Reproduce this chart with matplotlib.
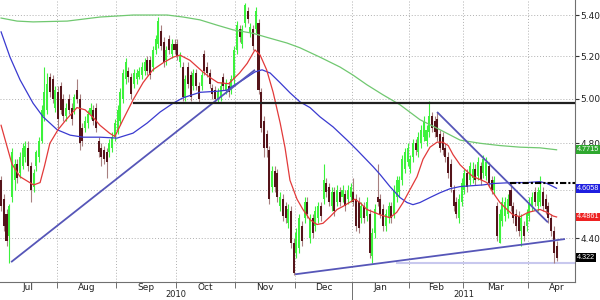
import numpy as np
import matplotlib
matplotlib.use("Agg")
import matplotlib.pyplot as plt
import matplotlib.transforms as mtransforms
from matplotlib.ticker import FixedLocator, NullLocator

# daily candles, Jul 2010 - Apr 2011 (one entry per trading day)
opens = [4.64, 4.56, 4.50, 4.41, 4.57, 4.64, 4.71, 4.67, 4.70, 4.74, 4.78, 4.70, 4.61, 4.70, 4.74, 4.81, 4.92, 4.95, 5.10, 5.09,
         4.96, 5.03, 5.06, 5.00, 4.92, 5.00, 4.96, 4.95, 5.04, 5.00, 4.87, 4.87, 4.89, 4.93, 4.95, 4.96, 4.81, 4.78, 4.77, 4.76,
         4.76, 4.78, 4.83, 4.86, 4.90, 5.00, 5.09, 5.13, 5.10, 5.07, 5.09, 5.10, 5.11, 5.13, 5.18, 5.18, 5.15, 5.23, 5.26, 5.32,
         5.27, 5.18, 5.28, 5.21, 5.26, 5.26, 5.17, 5.15, 5.01, 5.15, 5.11, 5.06, 5.12, 5.06, 5.06, 5.21, 5.15, 5.12, 5.05, 5.04,
         5.00, 5.01, 5.10, 5.04, 5.06, 5.04, 5.09, 5.23, 5.33, 5.26, 5.36, 5.42, 5.31, 5.33, 5.33, 5.36, 5.03, 4.90, 4.84, 4.77,
         4.61, 4.68, 4.67, 4.53, 4.56, 4.53, 4.46, 4.51, 4.38, 4.34, 4.36, 4.45, 4.48, 4.55, 4.40, 4.48, 4.45, 4.48, 4.53, 4.56,
         4.63, 4.61, 4.53, 4.59, 4.55, 4.59, 4.57, 4.58, 4.56, 4.57, 4.59, 4.56, 4.55, 4.48, 4.53, 4.49, 4.50, 4.33, 4.42, 4.57,
         4.56, 4.52, 4.45, 4.48, 4.53, 4.50, 4.57, 4.59, 4.64, 4.69, 4.72, 4.69, 4.74, 4.80, 4.76, 4.80, 4.83, 4.81, 4.85, 4.92,
         4.90, 4.91, 4.84, 4.83, 4.78, 4.74, 4.71, 4.60, 4.55, 4.48, 4.55, 4.60, 4.67, 4.64, 4.65, 4.69, 4.66, 4.70, 4.67, 4.66,
         4.70, 4.64, 4.60, 4.53, 4.38, 4.47, 4.49, 4.50, 4.60, 4.53, 4.50, 4.49, 4.43, 4.45, 4.45, 4.49, 4.53, 4.59, 4.53, 4.55,
         4.59, 4.56, 4.53, 4.48, 4.43, 4.37]
highs = [4.66, 4.58, 4.52, 4.54, 4.78, 4.73, 4.73, 4.76, 4.80, 4.81, 4.81, 4.72, 4.69, 4.77, 4.83, 4.97, 5.15, 5.12, 5.12, 5.11,
         5.06, 5.06, 5.08, 5.02, 4.98, 5.02, 4.98, 5.02, 5.09, 5.02, 4.89, 4.92, 4.95, 4.98, 4.97, 4.98, 4.83, 4.80, 4.79, 4.78,
         4.82, 4.85, 4.91, 4.97, 5.05, 5.14, 5.19, 5.15, 5.12, 5.14, 5.14, 5.15, 5.17, 5.19, 5.20, 5.20, 5.25, 5.30, 5.39, 5.35,
         5.29, 5.25, 5.30, 5.28, 5.28, 5.28, 5.22, 5.17, 5.11, 5.17, 5.13, 5.14, 5.14, 5.08, 5.13, 5.23, 5.17, 5.14, 5.07, 5.06,
         5.05, 5.08, 5.12, 5.09, 5.08, 5.11, 5.25, 5.37, 5.35, 5.35, 5.46, 5.44, 5.36, 5.35, 5.44, 5.38, 5.05, 4.92, 4.86, 4.79,
         4.70, 4.70, 4.69, 4.59, 4.58, 4.55, 4.54, 4.53, 4.40, 4.44, 4.50, 4.47, 4.57, 4.57, 4.50, 4.50, 4.53, 4.55, 4.55, 4.71,
         4.65, 4.63, 4.61, 4.61, 4.62, 4.61, 4.62, 4.60, 4.62, 4.63, 4.65, 4.58, 4.57, 4.55, 4.55, 4.57, 4.52, 4.44, 4.54, 4.71,
         4.58, 4.54, 4.52, 4.55, 4.55, 4.62, 4.66, 4.66, 4.75, 4.78, 4.80, 4.75, 4.82, 4.82, 4.85, 4.88, 4.92, 4.88, 4.99, 4.94,
         4.92, 4.94, 4.86, 4.85, 4.80, 4.76, 4.73, 4.62, 4.57, 4.58, 4.65, 4.69, 4.69, 4.72, 4.72, 4.71, 4.74, 4.72, 4.75, 4.74,
         4.72, 4.66, 4.66, 4.55, 4.52, 4.57, 4.57, 4.58, 4.63, 4.55, 4.52, 4.51, 4.50, 4.47, 4.52, 4.57, 4.59, 4.61, 4.61, 4.66,
         4.61, 4.58, 4.55, 4.50, 4.45, 4.39]
lows = [4.51, 4.43, 4.37, 4.30, 4.55, 4.60, 4.63, 4.65, 4.69, 4.72, 4.68, 4.55, 4.59, 4.68, 4.72, 4.80, 4.90, 4.93, 5.01, 4.98,
        4.94, 4.87, 4.93, 4.90, 4.90, 4.93, 4.88, 4.93, 4.98, 4.77, 4.79, 4.85, 4.87, 4.91, 4.88, 4.85, 4.74, 4.70, 4.71, 4.65,
        4.74, 4.76, 4.81, 4.84, 4.88, 4.98, 5.07, 5.08, 5.00, 5.05, 5.07, 5.09, 5.09, 5.11, 5.11, 5.09, 5.13, 5.21, 5.24, 5.23,
        5.15, 5.16, 5.21, 5.19, 5.21, 5.18, 5.15, 4.99, 4.99, 5.05, 4.99, 5.04, 5.04, 4.98, 5.04, 5.11, 5.10, 5.05, 5.00, 4.98,
        4.98, 4.99, 5.04, 5.02, 5.01, 5.02, 5.07, 5.21, 5.27, 5.24, 5.34, 5.36, 5.29, 5.23, 5.31, 5.02, 4.85, 4.74, 4.74, 4.54,
        4.59, 4.59, 4.55, 4.51, 4.47, 4.46, 4.44, 4.36, 4.255, 4.32, 4.34, 4.37, 4.46, 4.48, 4.38, 4.40, 4.43, 4.46, 4.47, 4.54,
        4.57, 4.53, 4.51, 4.49, 4.53, 4.53, 4.55, 4.51, 4.54, 4.55, 4.53, 4.43, 4.42, 4.46, 4.46, 4.47, 4.32, 4.30, 4.40, 4.53,
        4.48, 4.43, 4.43, 4.46, 4.46, 4.48, 4.55, 4.57, 4.62, 4.67, 4.70, 4.67, 4.72, 4.75, 4.74, 4.78, 4.81, 4.79, 4.83, 4.85,
        4.83, 4.81, 4.76, 4.75, 4.72, 4.65, 4.59, 4.51, 4.48, 4.46, 4.53, 4.58, 4.59, 4.62, 4.63, 4.62, 4.64, 4.62, 4.65, 4.64,
        4.61, 4.58, 4.58, 4.39, 4.38, 4.45, 4.47, 4.48, 4.51, 4.46, 4.43, 4.41, 4.37, 4.39, 4.43, 4.47, 4.51, 4.53, 4.51, 4.53,
        4.51, 4.50, 4.46, 4.41, 4.30, 4.31]
closes = [4.53, 4.45, 4.39, 4.53, 4.76, 4.71, 4.65, 4.74, 4.78, 4.79, 4.70, 4.60, 4.67, 4.76, 4.81, 4.95, 5.03, 5.07, 5.03, 5.00,
          5.04, 4.91, 4.95, 4.92, 4.96, 4.95, 4.91, 5.01, 5.00, 4.80, 4.81, 4.90, 4.93, 4.96, 4.90, 4.87, 4.76, 4.74, 4.73, 4.72,
          4.80, 4.83, 4.89, 4.95, 5.03, 5.12, 5.17, 5.10, 5.02, 5.12, 5.12, 5.13, 5.15, 5.17, 5.13, 5.11, 5.23, 5.28, 5.37, 5.25,
          5.17, 5.23, 5.23, 5.26, 5.23, 5.20, 5.20, 5.01, 5.09, 5.07, 5.01, 5.12, 5.06, 5.00, 5.11, 5.13, 5.12, 5.07, 5.02, 5.00,
          5.03, 5.06, 5.06, 5.07, 5.03, 5.09, 5.23, 5.35, 5.29, 5.33, 5.45, 5.38, 5.34, 5.25, 5.42, 5.04, 4.87, 4.78, 4.78, 4.56,
          4.68, 4.61, 4.57, 4.57, 4.49, 4.48, 4.52, 4.38, 4.26, 4.42, 4.48, 4.39, 4.55, 4.50, 4.48, 4.42, 4.51, 4.53, 4.49, 4.64,
          4.59, 4.55, 4.59, 4.51, 4.60, 4.55, 4.60, 4.53, 4.60, 4.61, 4.55, 4.45, 4.44, 4.53, 4.48, 4.55, 4.34, 4.42, 4.52, 4.55,
          4.50, 4.45, 4.50, 4.53, 4.48, 4.60, 4.64, 4.64, 4.73, 4.76, 4.78, 4.73, 4.80, 4.77, 4.83, 4.86, 4.90, 4.86, 4.92, 4.87,
          4.85, 4.83, 4.78, 4.77, 4.74, 4.67, 4.61, 4.53, 4.50, 4.56, 4.63, 4.67, 4.61, 4.70, 4.69, 4.64, 4.72, 4.64, 4.73, 4.72,
          4.63, 4.60, 4.64, 4.41, 4.50, 4.55, 4.55, 4.56, 4.53, 4.48, 4.45, 4.43, 4.48, 4.41, 4.50, 4.55, 4.57, 4.55, 4.59, 4.60,
          4.53, 4.52, 4.48, 4.43, 4.34, 4.322]

# moving averages: (trading-day index, value)
ma_short_x = [0, 4, 7, 12, 14.4, 16, 18, 21, 24, 28, 31, 34, 36.5, 40, 42, 45, 48.7, 52.4, 56, 60, 63.5, 66, 69.7, 72.3,
              74.5, 77, 80, 84, 85.6, 88, 90.8, 93.7, 95.6, 98, 100.4, 103, 104.8, 106.6, 109.2, 111.4, 114, 116.6, 118.8,
              121.4, 124, 126.2, 130.6, 132.5, 135, 139.9, 143.5, 146, 148.3, 150.9, 153.5, 155.7, 158.3, 160.9, 163, 165,
              166.8, 169.4, 172, 174.2, 176.8, 179.3, 181.5, 184.1, 186.7, 188.9, 191.5, 194.5, 198.9, 201.5, 203.7, 205]
ma_short = [4.88, 4.71, 4.655, 4.62, 4.63, 4.70, 4.80, 4.86, 4.905, 4.96, 4.95, 4.915, 4.88, 4.845, 4.83, 4.905, 4.995,
            5.075, 5.135, 5.17, 5.195, 5.205, 5.18, 5.15, 5.125, 5.10, 5.075, 5.07, 5.09, 5.12, 5.165, 5.23, 5.205, 5.135,
            5.03, 4.89, 4.78, 4.64, 4.56, 4.517, 4.475, 4.455, 4.46, 4.487, 4.517, 4.53, 4.56, 4.545, 4.517, 4.495, 4.483,
            4.505, 4.545, 4.60, 4.655, 4.73, 4.783, 4.805, 4.805, 4.79, 4.75, 4.706, 4.677, 4.655, 4.643, 4.63, 4.588,
            4.546, 4.517, 4.495, 4.487, 4.505, 4.517, 4.505, 4.49, 4.4861]
ma_mid_x = [0, 3.3, 7, 11.8, 15.5, 20.7, 25.5, 30.3, 36.5, 42.8, 48.7, 53.9, 58.7, 63.5, 67.2, 73.4, 79.7, 83.4, 85.6,
            89.3, 91.9, 93.7, 96.3, 99.3, 103, 106.6, 110.3, 114, 117.7, 122.5, 127.7, 131.4, 137.3, 139.9, 143.5, 147.2,
            149.8, 152, 154.6, 158.3, 162, 165.7, 169.4, 174.2, 177.9, 181.5, 188.9, 194.1, 198.9, 201.5, 205]
ma_mid = [5.317, 5.195, 5.088, 4.98, 4.918, 4.86, 4.836, 4.827, 4.827, 4.823, 4.845, 4.89, 4.94, 4.98, 5.005, 5.03,
          5.035, 5.04, 5.06, 5.088, 5.11, 5.125, 5.135, 5.12, 5.074, 5.028, 4.986, 4.96, 4.918, 4.873, 4.814, 4.77,
          4.698, 4.664, 4.613, 4.567, 4.546, 4.537, 4.546, 4.567, 4.587, 4.604, 4.613, 4.617, 4.62, 4.626, 4.63, 4.63,
          4.634, 4.626, 4.6058]
ma_long_x = [0, 5.9, 11.8, 24.4, 36.5, 48.7, 61.3, 67.2, 73.4, 79.7, 85.6, 93, 98.2, 105.5, 110.3, 117.7, 125.1, 129.9,
             135, 141, 147.2, 154.6, 162, 169.4, 176.8, 184.1, 191.5, 198.9, 205]
ma_long = [5.385, 5.37, 5.366, 5.37, 5.39, 5.40, 5.40, 5.39, 5.376, 5.35, 5.327, 5.31, 5.29, 5.263, 5.24, 5.195, 5.148,
           5.11, 5.065, 5.018, 4.973, 4.905, 4.86, 4.814, 4.80, 4.79, 4.783, 4.78, 4.7715]

# hand-drawn trendlines: (x0, y0, x1, y1)
trendlines = [(3.7, 4.304, 93.7, 5.135), (108.5, 4.256, 208.1, 4.396), (160.9, 4.94, 201.8, 4.464)]
resistance = (49, 4.98)
pivot = (187.8, 4.63)
support = (146, 4.30)

months = ["Jul", "Aug", "Sep", "Oct", "Nov", "Dec", "Jan", "Feb", "Mar", "Apr"]
month_starts = [21, 43, 65, 87, 109, 130, 151, 171, 195]
years = ["2010", "2011"]
yticks = [5.40, 5.20, 5.00, 4.80, 4.60, 4.40]
ytick_labels = ["5.40", "5.20", "5.00", "4.80", "", "4.40"]   # 4.60 sits under the blue tag

last_labels = [(4.7715, "4.7715", "#2fa82f"), (4.6058, "4.6058", "#1f1fe0"),
               (4.4861, "4.4861", "#ee2222"), (4.322, "4.322", "#000000")]

UP = "#3cf23c"
DOWN_BODY = "#55141a"
DOWN_WICK = "#a88080"

fig = plt.figure(figsize=(6, 3), dpi=100)
ax = fig.add_axes([0, 0.06, 575 / 600, 0.94])
ax.set_yscale("log")
xmax = 211.8
ax.set_xlim(-0.4, xmax)
ax.set_ylim(4.226, 5.475)

idx = np.arange(len(closes))
o = np.array(opens); c = np.array(closes); h = np.array(highs); l = np.array(lows)
up = c >= o

# grid
bounds = [s - 0.5 for s in month_starts]
for b in bounds:
    ax.axvline(b, color="#b0b0b0", lw=0.7, ls=(0, (1, 2)), zorder=0)
for t in yticks:
    ax.axhline(t, color="#b0b0b0", lw=0.7, ls=(0, (1, 2)), zorder=0)

# candles
ax.vlines(idx[up], l[up], h[up], color=UP, lw=0.8, zorder=3)
ax.vlines(idx[~up], l[~up], h[~up], color=DOWN_WICK, lw=0.8, zorder=3)
ax.bar(idx[up], c[up] - o[up], bottom=o[up], width=0.75, color=UP, lw=0, zorder=4)
ax.bar(idx[~up], o[~up] - c[~up], bottom=c[~up], width=0.75, color=DOWN_BODY, lw=0, zorder=4)

# moving averages
ax.plot(ma_long_x, ma_long, color="#70c870", lw=0.9, zorder=5)
ax.plot(ma_mid_x, ma_mid, color="#3a3ad0", lw=0.9, zorder=5)
ax.plot(ma_short_x, ma_short, color="#e23a3a", lw=0.9, zorder=5)

# drawn lines
for x0, y0, x1, y1 in trendlines:
    ax.plot([x0, x1], [y0, y1], color="#5656b8", lw=1.3, zorder=6, solid_capstyle="butt")
ax.plot([resistance[0], xmax], [resistance[1]] * 2, color="#202020", lw=1.6, zorder=6)
ax.plot([pivot[0], xmax], [pivot[1]] * 2, color="#000000", lw=1.5, ls=(0, (3, 1, 1, 1)), zorder=6)
ax.plot([support[0], xmax], [support[1]] * 2, color="#c8c8ee", lw=1.5, zorder=2)

# axes styling
for side in ["left", "top"]:
    ax.spines[side].set_visible(False)
ax.spines["right"].set_color("#707070")
ax.spines["bottom"].set_color("#707070")
ax.spines["right"].set_linewidth(0.8)
ax.spines["bottom"].set_linewidth(0.8)

ax.yaxis.tick_right()
ax.yaxis.set_major_locator(FixedLocator(yticks))
ax.yaxis.set_minor_locator(NullLocator())
ax.set_yticklabels(ytick_labels)
ax.tick_params(axis="y", which="major", length=3, width=0.8, color="#333333", labelsize=6.5, pad=1,
               labelcolor="#222222")

ax.xaxis.set_major_locator(FixedLocator(bounds))
ax.xaxis.set_minor_locator(NullLocator())
ax.set_xticklabels([])
ax.tick_params(axis="x", which="major", length=4, width=0.7, color="#707070")

edges = [-0.4] + bounds + [bounds[-1] + 21]
trans = mtransforms.blended_transform_factory(ax.transData, fig.transFigure)
for i, m in enumerate(months):
    ax.text((edges[i] + edges[i + 1]) / 2, 0.042, m, transform=trans, ha="center", va="center",
            fontsize=6.5, color="#222222")
year_split = bounds[5]
ax.text((-0.4 + year_split) / 2, 0.017, years[0], transform=trans, ha="center", va="center",
        fontsize=6, color="#222222")
ax.text((year_split + xmax) / 2, 0.017, years[1], transform=trans, ha="center", va="center",
        fontsize=6, color="#222222")
ax.plot([year_split, year_split], [0.06, 0.0], transform=trans, color="#707070", lw=0.7, clip_on=False)

# last-value tags on the right axis
ytrans = mtransforms.blended_transform_factory(ax.transAxes, ax.transData)
for val, txt, col in last_labels:
    ax.text(1.003, val, txt, transform=ytrans, ha="left", va="center", fontsize=5.2, color="white",
            family="Liberation Sans", zorder=10, clip_on=False,
            bbox=dict(boxstyle="square,pad=0.12", fc=col, ec="none"))

fig.savefig("out.png", dpi=100)
